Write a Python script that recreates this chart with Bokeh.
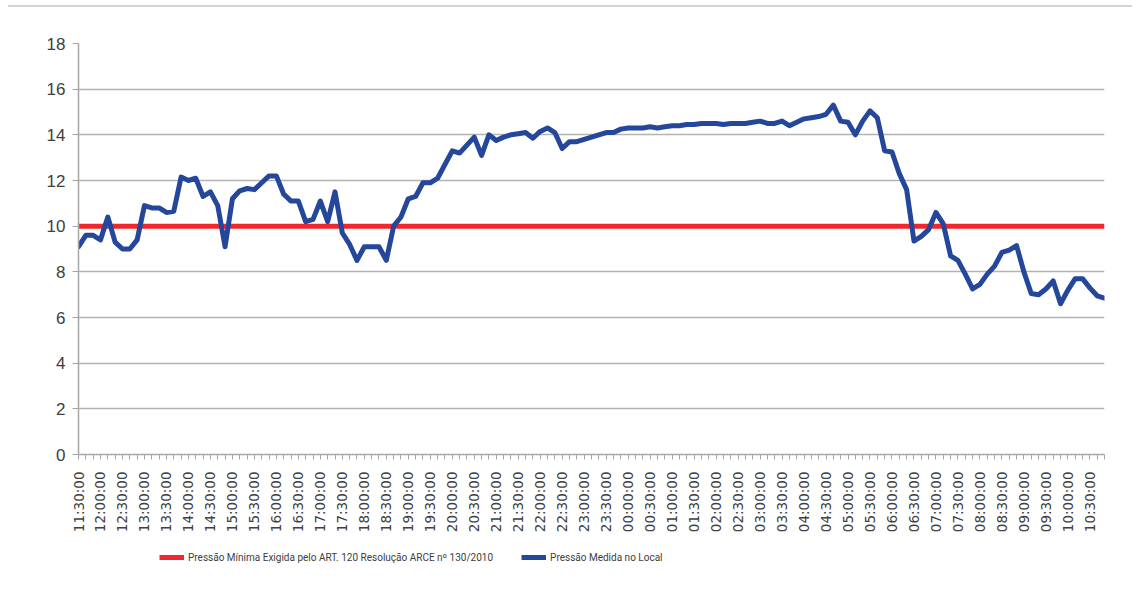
import math
from bokeh.plotting import figure
from bokeh.layouts import column
from bokeh.models import FixedTicker, Legend, LegendItem
from bokeh.embed import file_html
from bokeh.resources import INLINE

# Time labels shown on the x axis (every 30 minutes; readings every 10 minutes)
tick_labels = [
    "11:30:00", "12:00:00", "12:30:00", "13:00:00", "13:30:00", "14:00:00",
    "14:30:00", "15:00:00", "15:30:00", "16:00:00", "16:30:00", "17:00:00",
    "17:30:00", "18:00:00", "18:30:00", "19:00:00", "19:30:00", "20:00:00",
    "20:30:00", "21:00:00", "21:30:00", "22:00:00", "22:30:00", "23:00:00",
    "23:30:00", "00:00:00", "00:30:00", "01:00:00", "01:30:00", "02:00:00",
    "02:30:00", "03:00:00", "03:30:00", "04:00:00", "04:30:00", "05:00:00",
    "05:30:00", "06:00:00", "06:30:00", "07:00:00", "07:30:00", "08:00:00",
    "08:30:00", "09:00:00", "09:30:00", "10:00:00", "10:30:00",
]
readings_per_label = 3

# Measured pressure (mca), one reading every 10 minutes from 11:30:00
pressure = [
    9.1, 9.6, 9.6, 9.4, 10.4, 9.3, 9.0, 9.0, 9.4, 10.9,
    10.8, 10.8, 10.6, 10.65, 12.15, 12.0, 12.1, 11.3, 11.5, 10.9,
    9.1, 11.2, 11.55, 11.65, 11.6, 11.9, 12.2, 12.2, 11.4, 11.1,
    11.1, 10.2, 10.3, 11.1, 10.2, 11.5, 9.7, 9.2, 8.5, 9.1,
    9.1, 9.1, 8.5, 10.0, 10.4, 11.2, 11.3, 11.9, 11.9, 12.1,
    12.7, 13.3, 13.2, 13.55, 13.9, 13.1, 14.0, 13.75, 13.9, 14.0,
    14.05, 14.1, 13.85, 14.15, 14.3, 14.1, 13.4, 13.7, 13.7, 13.8,
    13.9, 14.0, 14.1, 14.1, 14.25, 14.3, 14.3, 14.3, 14.35, 14.3,
    14.35, 14.4, 14.4, 14.45, 14.45, 14.5, 14.5, 14.5, 14.45, 14.5,
    14.5, 14.5, 14.55, 14.6, 14.5, 14.5, 14.6, 14.4, 14.55, 14.7,
    14.75, 14.8, 14.9, 15.3, 14.6, 14.55, 14.0, 14.6, 15.05, 14.75,
    13.3, 13.25, 12.3, 11.6, 9.35, 9.55, 9.85, 10.6, 10.1, 8.7,
    8.5, 7.9, 7.25, 7.45, 7.9, 8.25, 8.85, 8.95, 9.15, 8.0,
    7.05, 7.0, 7.25, 7.6, 6.6, 7.2, 7.7, 7.7, 7.3, 6.95,
    6.85,
]
min_pressure = 10
y_ticks = [0, 2, 4, 6, 8, 10, 12, 14, 16, 18]

series_names = [
    "Pressão Mínima Exigida pelo ART. 120 Resolução ARCE nº 130/2010",
    "Pressão Medida no Local",
]
series_colors = ["#f0282d", "#24469b"]

idx = list(range(len(pressure)))
required = [min_pressure] * len(idx)

p = figure(
    width=1124, height=534,
    x_range=(idx[0], idx[-1]), y_range=(y_ticks[0], y_ticks[-1]),
    output_backend="svg", toolbar_location=None,
    min_border_left=70, min_border_right=28,
    min_border_top=36, min_border_bottom=87,
)
p.outline_line_color = None

# Grid
p.xgrid.grid_line_color = None
p.ygrid.grid_line_color = "#b3b3b3"
p.ygrid.grid_line_width = 1.5
p.ygrid.ticker = FixedTicker(ticks=y_ticks)

# Y axis
p.yaxis.ticker = FixedTicker(ticks=y_ticks)
p.yaxis.axis_line_color = "#a6a6a6"
p.yaxis.axis_line_width = 1.5
p.yaxis.major_tick_line_color = "#a6a6a6"
p.yaxis.major_tick_out = 6
p.yaxis.major_tick_in = 0
p.yaxis.minor_tick_line_color = None
p.yaxis.major_label_text_font = "Liberation Sans"
p.yaxis.major_label_text_font_size = "17px"
p.yaxis.major_label_text_color = "#404040"
p.yaxis.major_label_standoff = 7

# X axis: a tick for every reading, a label every 30 minutes
overrides = {i: "" for i in idx}
for k, lab in enumerate(tick_labels):
    overrides[k * readings_per_label] = lab
p.xaxis.ticker = FixedTicker(ticks=idx)
p.xaxis.major_label_overrides = overrides
p.xaxis.axis_line_color = "#a6a6a6"
p.xaxis.axis_line_width = 1.5
p.xaxis.major_tick_line_color = "#a6a6a6"
p.xaxis.major_tick_out = 5
p.xaxis.major_tick_in = 0
p.xaxis.minor_tick_line_color = None
p.xaxis.major_label_orientation = math.pi / 2
p.xaxis.major_label_text_font = "DejaVu Sans"
p.xaxis.major_label_text_font_size = "13.5px"
p.xaxis.major_label_text_color = "#404040"
p.xaxis.major_label_standoff = 12

p.line(idx, required, line_color=series_colors[0], line_width=5)
p.line(idx, pressure, line_color=series_colors[1], line_width=5,
       line_join="round", line_cap="round")
p.styles = {"border-top": "2px solid #d4d4d4"}

# Legend strip underneath the chart
leg = figure(
    width=1124, height=47, x_range=(0, 1), y_range=(0, 1),
    output_backend="svg", toolbar_location=None,
    x_axis_type=None, y_axis_type=None,
    min_border=0,
)
leg.outline_line_color = None
leg.grid.grid_line_color = None
g_min = leg.line(idx, required, line_color=series_colors[0], line_width=5, visible=False)
g_meas = leg.line(idx, pressure, line_color=series_colors[1], line_width=5, visible=False)

legend = Legend(
    items=[LegendItem(label=series_names[0], renderers=[g_min]),
           LegendItem(label=series_names[1], renderers=[g_meas])],
    orientation="horizontal",
    location=(81, 19),
    border_line_color=None,
    background_fill_alpha=0,
    inactive_fill_alpha=0,
    label_text_font="Roboto",
    label_text_font_size="10px",
    label_text_color="#404040",
    glyph_width=25, glyph_height=20,
    spacing=28, label_standoff=4, padding=5, margin=0,
)
leg.add_layout(legend)

layout = column(p, leg, spacing=0)
layout.styles = {"margin": "5px 0 0 8px"}
open("out.html", "w").write(file_html(layout, INLINE))
